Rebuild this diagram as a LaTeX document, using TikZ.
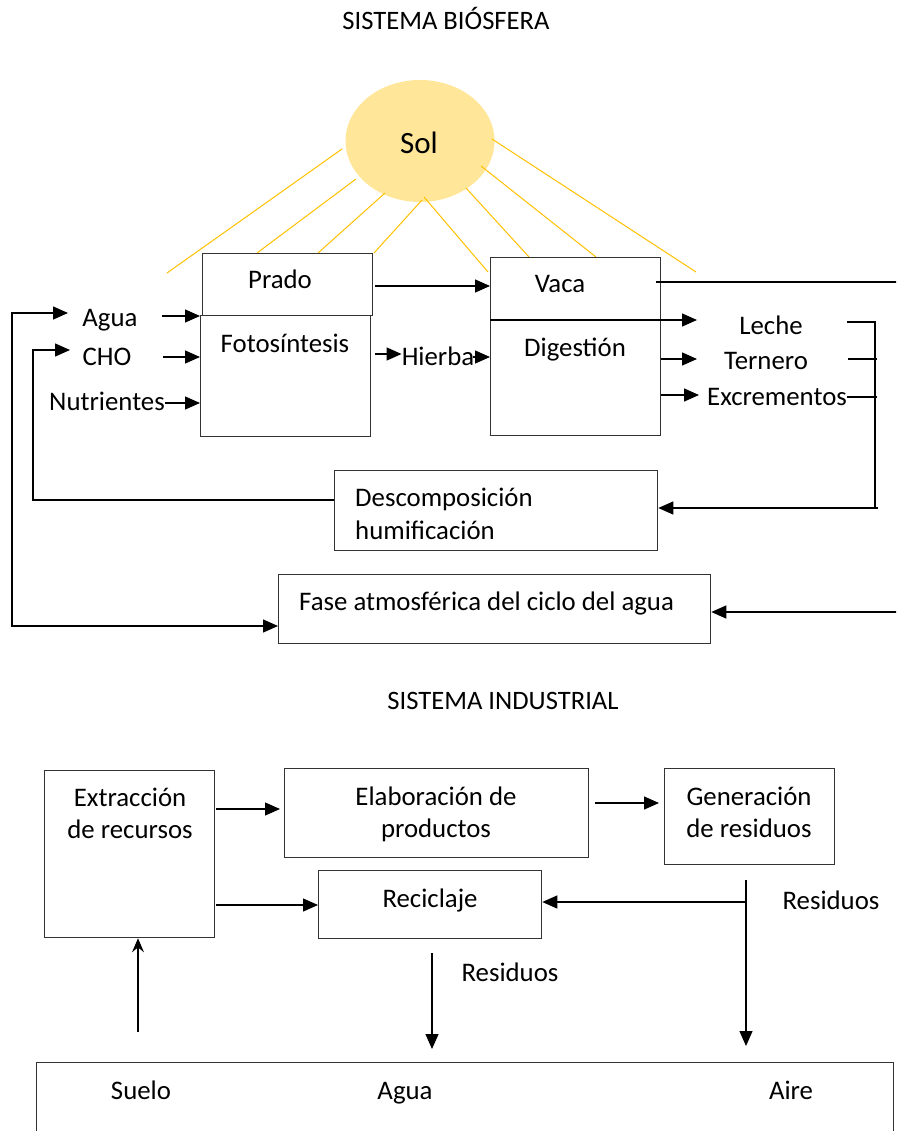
\documentclass[tikz,border=0pt]{standalone}
\usepackage{fontspec}
\setmainfont{Carlito}
\usetikzlibrary{arrows.meta,shapes.geometric}
\definecolor{sunfill}{HTML}{FFE699}
\definecolor{sunray}{HTML}{FFC000}
\begin{document}
\begin{tikzpicture}[x=1pt,y=-1pt,
  box/.style={draw=black!80, line width=1.3pt, inner sep=0pt, anchor=north west},
  txt/.style={inner sep=0pt, anchor=base, font=\fontsize{26.8}{32}\selectfont},
  ltxt/.style={txt, anchor=base west},
  ttl/.style={inner sep=0pt, anchor=base, font=\fontsize{26.6}{32}\selectfont},
  ln/.style={line width=1.3pt},
  arr/.style={line width=1.3pt, -{Triangle[length=15pt,width=13pt]}},
  biarr/.style={line width=1.3pt, {Triangle[length=15pt,width=13pt]}-{Triangle[length=15pt,width=13pt]}},
  thinarr/.style={line width=1.1pt, -{Stealth[length=14pt,width=12pt,inset=5pt]}},
  ray/.style={draw=sunray, line width=1pt}]
\clip (0,0) rectangle (896,1131);

% ---------- Sistema biósfera ----------
\node[ttl] (tbio) at (446,30) {SISTEMA BIÓSFERA};

% sun and its rays
\node[ellipse, fill=sunfill, inner sep=0pt, minimum width=149pt, minimum height=122pt] (sol) at (420,141) {};
\node[inner sep=0pt, anchor=base, font=\fontsize{31}{36}\selectfont] (soltxt) at (419,154) {Sol};
\draw[ray] (342,149) -- (167,273);
\draw[ray] (356,179) -- (257,253);
\draw[ray] (385,193) -- (318,253);
\draw[ray] (422,200) -- (374,253);
\draw[ray] (424,197) -- (488,272);
\draw[ray] (466,188) -- (529,257);
\draw[ray] (481,166) -- (596,257);
\draw[ray] (492,139) -- (696,272);

% process boxes
\node[box, fill=white, minimum width=170pt, minimum height=62pt] (prado) at (202,253) {};
\node[box, minimum width=170pt, minimum height=121pt] (foto) at (200,315) {};
\node[box, fill=white, minimum width=170pt, minimum height=63pt] (vaca) at (490,257) {};
\node[box, minimum width=170pt, minimum height=115pt] (dig) at (490,320) {};
\node[box, minimum width=323pt, minimum height=80pt] (desc) at (334,470) {};
\node[box, minimum width=432pt, minimum height=69pt] (fase) at (278,574) {};

% labels
\node[txt] (agua) at (110,326) {Agua};
\node[txt] (cho) at (107,365) {CHO};
\node[txt] (nutr) at (107,410) {Nutrientes};
\node[txt] (tprado) at (280,289) {Prado};
\node[txt] (tfoto) at (285,352) {Fotosíntesis};
\node[txt] (hierba) at (438,365) {Hierba};
\node[txt] (tvaca) at (560,293) {Vaca};
\node[txt] (tdig) at (575,356) {Digestión};
\node[txt] (leche) at (771,334) {Leche};
\node[txt] (ternero) at (766,369) {Ternero};
\node[txt] (excr) at (777,405) {Excrementos};
\node[ltxt] (tdesc1) at (355,506) {Descomposición};
\node[ltxt] (tdesc2) at (355,539) {humificación};
\node[ltxt] (tfase) at (299,610) {Fase atmosférica del ciclo del agua};

% inputs to photosynthesis
\coordinate (aguaOut) at (162,316);
\coordinate (choOut) at (163,357);
\coordinate (nutrOut) at (165,403);
\draw[arr] (aguaOut) -- (foto.west |- aguaOut);
\draw[arr] (choOut) -- (foto.west |- choOut);
\draw[arr] (nutrOut) -- (foto.west |- nutrOut);

% prado / hierba to the cow
\coordinate (pradoOut) at (375,286);
\draw[arr] (pradoOut) -- (vaca.west |- pradoOut);
\coordinate (fotoOut) at (375,354);
\draw[arr] (fotoOut) -- (hierba.west |- fotoOut);
\coordinate (hierbaOut) at (473,357);
\draw[arr] (hierbaOut) -- (dig.west |- hierbaOut);

% outputs of digestion
\coordinate (lecheIn) at (697,320);
\coordinate (terneroIn) at (697,359);
\coordinate (excrIn) at (699,395);
\draw[arr] (dig.north west) -- (lecheIn);
\draw[arr] (dig.east |- terneroIn) -- (terneroIn);
\draw[arr] (661,395) -- (excrIn);

% collector towards decomposition
\coordinate (bkTop) at (875,322);
\coordinate (bkBot) at (875,508);
\draw[ln] (847,322) -- (bkTop) -- (bkBot);
\draw[ln] (848,359) -- (877,359);
\draw[ln] (847,397) -- (877,397);
\draw[arr] (878,508) -- (desc.east |- bkBot);

% recycling of nutrients and water
\coordinate (descOut) at (334,500);
\draw[arr] (descOut) -- (33,500) -- (33,350) -- (70,350);
\draw[biarr] (68,313) -- (12,313) -- (12,626) -- (fase.west |- 0,626);

% cow to the atmospheric phase (runs along the right margin)
\coordinate (vacaOut) at (656,282);
\draw[arr] (vacaOut) -- (900,282) -- (900,612) -- (fase.east |- 0,612);

% ---------- Sistema industrial ----------
\node[ttl] (tind) at (503,709) {SISTEMA INDUSTRIAL};

\node[box, minimum width=170pt, minimum height=167pt] (extr) at (44,770) {};
\node[box, minimum width=304pt, minimum height=89pt] (elab) at (284,768) {};
\node[box, minimum width=170pt, minimum height=96pt] (gen) at (664,768) {};
\node[box, minimum width=223pt, minimum height=68pt] (recic) at (318,870) {};
\node[box, minimum width=857pt, minimum height=120pt] (medio) at (36,1062) {};

\node[txt] (textr1) at (130,806) {Extracción};
\node[txt] (textr2) at (130,838) {de recursos};
\node[txt] (telab1) at (436,805) {Elaboración de};
\node[txt] (telab2) at (436,837) {productos};
\node[txt] (tgen1) at (749,805) {Generación};
\node[txt] (tgen2) at (749,837) {de residuos};
\node[txt] (trecic) at (430,907) {Reciclaje};
\node[txt] (res1) at (831,909) {Residuos};
\node[txt] (res2) at (510,981) {Residuos};
\node[txt] (suelo) at (141,1099) {Suelo};
\node[txt] (aguaM) at (405,1099) {Agua};
\node[txt] (aire) at (791,1099) {Aire};

\coordinate (e1) at (216,809);
\draw[arr] (e1) -- (280,809);
\coordinate (e2) at (595,803);
\draw[arr] (e2) -- (659,803);
\coordinate (e3) at (216,905);
\draw[arr] (e3) -- (recic.west |- e3);

\coordinate (resTop) at (746,880);
\coordinate (resJoin) at (746,902);
\coordinate (aireIn) at (746,1046);
\draw[arr] (resTop) -- (aireIn);
\draw[arr] (resJoin) -- (recic.east |- resJoin);

\coordinate (recOut) at (432,953);
\coordinate (aguaIn) at (432,1049);
\draw[arr] (recOut) -- (aguaIn);

\coordinate (sueloOut) at (138,1032);
\draw[thinarr] (sueloOut) -- (extr.south -| sueloOut);
\end{tikzpicture}
\end{document}
